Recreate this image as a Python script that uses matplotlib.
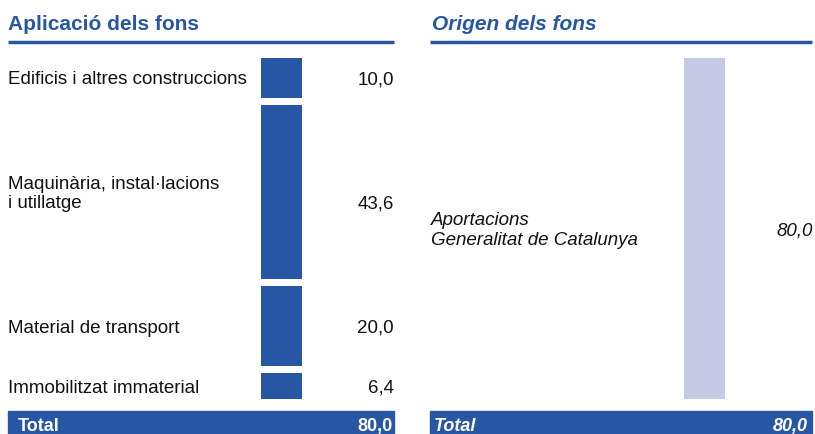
import matplotlib.pyplot as plt
from matplotlib.patches import Rectangle

# dades
aplicacio_labels = ['Edificis i altres construccions',
                    'Maquinària, instal·lacions\ni utillatge',
                    'Material de transport',
                    'Immobilitzat immaterial']
aplicacio_values = [10.0, 43.6, 20.0, 6.4]
aplicacio_text = ['10,0', '43,6', '20,0', '6,4']

origen_labels = ['Aportacions\nGeneralitat de Catalunya']
origen_values = [80.0]
origen_text = ['80,0']

total_text = '80,0'

blue = '#2756a4'
lilac = '#c6cae6'
W, H = 815, 434

plt.rcParams['font.family'] = ['Liberation Sans', 'DejaVu Sans']


def graf():
    fig = plt.figure(figsize=(W / 100, H / 100), dpi=100)

    # capa de fons en pixels per titols i totals
    bg = fig.add_axes([0, 0, 1, 1])
    bg.set_xlim(0, W)
    bg.set_ylim(H, 0)
    bg.axis('off')

    bar_top, bar_bot = 58, 399
    rect = [0, 1 - bar_bot / H, 1, (bar_bot - bar_top) / H]

    # --- Aplicacio ---
    gap = 1.75
    ax1 = fig.add_axes(rect)
    ax1.set_xlim(0, W)
    span = sum(aplicacio_values) + gap * (len(aplicacio_values) - 1)
    ax1.set_ylim(span, 0)
    ax1.axis('off')
    bottoms = []
    b = 0
    for v in aplicacio_values:
        bottoms.append(b)
        b += v + gap
    ax1.bar(281.5, aplicacio_values, bottom=bottoms, width=41, color=blue, align='center')
    for lab, v, b, t in zip(aplicacio_labels, aplicacio_values, bottoms, aplicacio_text):
        mid = b + v / 2
        ax1.annotate(lab, (8, mid), xytext=(0, -2), textcoords='offset pixels',
                     fontsize=13.5, va='center', ha='left', color='#111111',
                     linespacing=1.2)
        off = -12 if '\n' in lab else -2
        ax1.annotate(t, (394, mid), xytext=(0, off), textcoords='offset pixels',
                     fontsize=13.5, va='center', ha='right', color='#111111')

    # --- Origen ---
    ax2 = fig.add_axes(rect)
    ax2.set_xlim(0, W)
    ax2.set_ylim(sum(origen_values), 0)
    ax2.axis('off')
    ax2.bar(704.5, origen_values, bottom=0, width=41, color=lilac)
    for lab, v, t in zip(origen_labels, origen_values, origen_text):
        ax2.annotate(lab, (431, v / 2), xytext=(0, -2), textcoords='offset pixels',
                     fontsize=13.5, style='italic', va='center', ha='left',
                     color='#111111', linespacing=1.2)
        ax2.annotate(t, (813, v / 2), xytext=(0, -2), textcoords='offset pixels',
                     fontsize=13.5, style='italic', va='center', ha='right',
                     color='#111111')

    # titols
    bg.text(8, 25, 'Aplicació dels fons', fontsize=15, weight='bold', color=blue, va='center')
    bg.plot([8, 394], [41.5, 41.5], color=blue, lw=2.5, solid_capstyle='butt')
    bg.text(432, 25, 'Origen dels fons', fontsize=15, weight='bold', style='italic',
            color=blue, va='center')
    bg.plot([430, 812], [41.5, 41.5], color=blue, lw=2.5, solid_capstyle='butt')

    # totals
    bg.add_patch(Rectangle((8, 411), 386, 30, color=blue))
    bg.text(18, 431, 'Total', fontsize=13, weight='bold', color='white', va='baseline')
    bg.text(393, 431, total_text, fontsize=13, weight='bold', color='white', va='baseline',
            ha='right')
    bg.add_patch(Rectangle((430, 411), 382, 30, color=blue))
    bg.text(434, 431, 'Total', fontsize=13, weight='bold', style='italic', color='white',
            va='baseline')
    bg.text(808, 431, total_text, fontsize=13, weight='bold', style='italic', color='white',
            va='baseline', ha='right')

    fig.savefig('out.png', dpi=100)


if __name__ == '__main__':
    graf()
